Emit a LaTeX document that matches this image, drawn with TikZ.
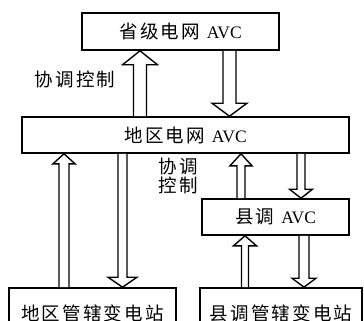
\documentclass[tikz,border=0pt]{standalone}
\usepackage{fontspec}
\setmainfont{Liberation Serif}
\newfontfamily\cjkf[LetterSpace=12]{Noto Sans CJK SC}
\newcommand{\cjk}{\cjkf\fontsize{18.5}{20}\selectfont}
\usetikzlibrary{calc}
\tikzset{
  box/.style={draw, line width=1.6pt, inner sep=0pt, font=\fontsize{17.5}{20}\selectfont},
  lab/.style={inner sep=0pt, align=center, font=\fontsize{17.5}{20}\selectfont},
  arr/.style={draw, line width=1.4pt, fill=white, miter limit=10}
}
% up arrow: #1 x, #2 tail anchor (below), #3 tip anchor (above), #4 shaft half width, #5 head half width, #6 head length
\newcommand{\uparr}[6]{\path[arr] let \p1=(#2), \p2=(#3) in
  ({#1-#4},\y1) -- ({#1-#4},{\y2-#6pt}) -- ({#1-#5},{\y2-#6pt}) -- (#1,\y2)
  -- ({#1+#5},{\y2-#6pt}) -- ({#1+#4},{\y2-#6pt}) -- ({#1+#4},\y1);}
% down arrow: #1 x, #2 tail anchor (above), #3 tip anchor (below)
\newcommand{\downarr}[6]{\path[arr] let \p1=(#2), \p2=(#3) in
  ({#1-#4},\y1) -- ({#1-#4},{\y2+#6pt}) -- ({#1-#5},{\y2+#6pt}) -- (#1,\y2)
  -- ({#1+#5},{\y2+#6pt}) -- ({#1+#4},{\y2+#6pt}) -- ({#1+#4},\y1);}
\begin{document}
\begin{tikzpicture}[x=1pt,y=-1pt]
\path[use as bounding box, clip] (0,0) rectangle (364,321);
\fill[white] (0,0) rectangle (364,321);
\node[box, minimum width=197pt, minimum height=37pt] (top) at (180.5,31.5) {{\cjk 省级电网}\hspace{7pt}AVC};
\node[box, minimum width=327pt, minimum height=36pt] (mid) at (185.5,135) {{\cjk 地区电网}\hspace{7pt}AVC};
\node[box, minimum width=147pt, minimum height=36pt] (county) at (275.5,217) {{\cjk 县调}\hspace{7pt}AVC};
\node[box, minimum width=167pt, minimum height=50pt] (botL) at (92.5,313) {\cjk 地区管辖变电站};
\node[box, minimum width=162pt, minimum height=50pt] (botR) at (281,313) {\cjk 县调管辖变电站};
\node[lab] (lab1) at (75,79) {\cjk 协调控制};
\node[lab] (lab2) at (178,176) {\cjk 协调\\[-0.5pt]\cjk 控制};
\uparr{140}{mid.north}{top.south}{6.5}{17.5}{14}
\downarr{229.5}{top.south}{mid.north}{6.5}{17.5}{13}
\uparr{64}{botL.north}{mid.south}{5}{11}{10}
\downarr{122.5}{mid.south}{botL.north}{4.5}{14.5}{10}
\uparr{241}{county.north}{mid.south}{4}{11}{12}
\downarr{301}{mid.south}{county.north}{4}{11.5}{9}
\uparr{245}{botR.north}{county.south}{3.5}{11.5}{10}
\downarr{304}{county.south}{botR.north}{5}{12}{9}
\end{tikzpicture}
\end{document}
